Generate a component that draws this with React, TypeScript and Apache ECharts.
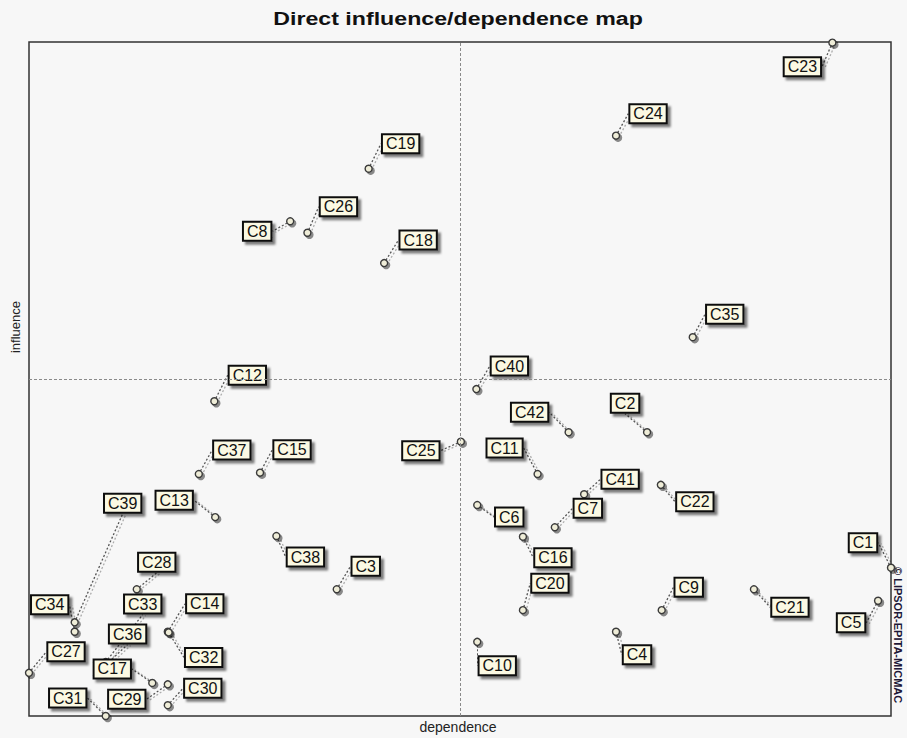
import React, { useEffect, useRef } from "react";
import * as echarts from "echarts";

const variables = [
  "C1", "C2", "C3", "C4", "C5", "C6", "C7", "C8", "C9", "C10",
  "C11", "C12", "C13", "C14", "C15", "C16", "C17", "C18", "C19", "C20",
  "C21", "C22", "C23", "C24", "C25", "C26", "C27", "C28", "C29", "C30",
  "C31", "C32", "C33", "C34", "C35", "C36", "C37", "C38", "C39", "C40",
  "C41", "C42",
];
const dependence = [
  100.0, 71.7, 35.7, 68.1, 98.5, 52.0, 61.0, 30.3, 73.4, 52.0,
  59.0, 21.5, 21.6, 16.1, 26.8, 57.3, 14.3, 41.2, 39.4, 57.3,
  84.1, 73.3, 93.2, 68.1, 50.1, 32.3, 0.0, 12.5, 16.1, 16.1,
  8.9, 16.2, 8.9, 5.3, 77.0, 9.0, 19.7, 28.7, 5.3, 51.9,
  64.4, 62.6,
];
const influence = [
  22.0, 42.1, 18.8, 12.5, 17.1, 31.3, 28.0, 73.4, 15.7, 11.0,
  35.9, 46.7, 29.5, 12.5, 36.1, 26.6, 4.9, 67.2, 81.2, 15.7,
  18.8, 34.3, 99.9, 86.1, 40.7, 71.7, 6.4, 18.8, 4.7, 1.6,
  0.0, 12.4, 8.0, 12.5, 56.2, 7.7, 35.9, 26.7, 13.9, 48.5,
  32.9, 42.1,
];
// label offsets (px) from each point to its tag
const labelDx = [
  -28, -22, 29, 21, -27, 32, 33, -33, 27, 20,
  -33, 33, -41, 37, 32, 30, -40, 34, 32, 27,
  36, 34, -30, 32, -40, 31, 37, 20, -41, 35,
  -38, 35, 37, -25, 32, 21, 33, 29, 48, 33,
  36, -39,
];
const labelDy = [
  -25, -29, -23, 23, 22, 12, -19, 10, -23, 24,
  -26, -26, -17, -28, -23, 21, -14, -23, -25, -27,
  18, 17, 24, -22, 9, -26, -21, -27, 15, -17,
  -18, 25, -58, -27, -23, -30, -24, 21, -119, -23,
  -15, -20,
];

const titleText = "Direct influence/dependence map";
const xName = "dependence";
const yName = "influence";
const credit = "© LIPSOR-EPITA-MICMAC";

export default function App() {
  const ref = useRef<HTMLDivElement>(null);

  useEffect(() => {
    if (!ref.current) return;
    const chart = echarts.init(ref.current, null, { renderer: "svg" });
    const data = variables.map((n, i) => ({ name: n, value: [dependence[i], influence[i]] }));
    const font = "Arial, 'Liberation Sans', sans-serif";

    chart.setOption({
      animation: false,
      backgroundColor: "#f7f7f7",
      grid: {
        left: 29,
        right: 16,
        top: 42,
        bottom: 22,
        show: true,
        backgroundColor: "#f7f7f7",
        borderColor: "#333",
        borderWidth: 1.5,
      },
      xAxis: {
        type: "value",
        min: 0,
        max: 100,
        axisLine: { show: false },
        axisTick: { show: false },
        axisLabel: { show: false },
        splitLine: { show: false },
      },
      yAxis: {
        type: "value",
        min: 0,
        max: 100,
        axisLine: { show: false },
        axisTick: { show: false },
        axisLabel: { show: false },
        splitLine: { show: false },
      },
      graphic: [
        {
          type: "text",
          x: 458,
          y: 18,
          scaleX: 1.22,
          style: {
            text: titleText,
            font: `bold 19px ${font}`,
            fill: "#111",
            textAlign: "center",
            textVerticalAlign: "middle",
          },
        },
        {
          type: "text",
          x: 458,
          y: 727,
          style: {
            text: xName,
            font: `14px ${font}`,
            fill: "#222",
            textAlign: "center",
            textVerticalAlign: "middle",
          },
        },
        {
          type: "text",
          x: 15,
          y: 327,
          rotation: Math.PI / 2,
          style: {
            text: yName,
            font: `13px ${font}`,
            fill: "#222",
            textAlign: "center",
            textVerticalAlign: "middle",
          },
        },
        {
          type: "text",
          x: 898,
          y: 567,
          rotation: -Math.PI / 2,
          style: {
            text: credit,
            font: `bold 11px ${font}`,
            fill: "#1e1838",
            textAlign: "left",
            textVerticalAlign: "middle",
          },
        },
      ],
      series: [
        {
          type: "scatter",
          data,
          clip: false,
          symbol: "circle",
          symbolSize: 7,
          itemStyle: {
            color: "#efedd8",
            borderColor: "#3a3a3a",
            borderWidth: 1.4,
            opacity: 1,
            shadowColor: "rgba(0,0,0,0.45)",
            shadowOffsetX: 2,
            shadowOffsetY: 2,
            shadowBlur: 1,
          },
          label: {
            show: true,
            position: "inside",
            formatter: "{b}",
            align: "center",
            verticalAlign: "middle",
            fontFamily: font,
            fontSize: 16,
            color: "#111",
            backgroundColor: "#fbf9e3",
            borderColor: "#111",
            borderWidth: 2,
            padding: [1, 3, 0, 3],
            shadowColor: "rgba(0,0,0,0.5)",
            shadowOffsetX: 3,
            shadowOffsetY: 3,
            shadowBlur: 2,
          },
          labelLayout: (p: any) => ({ dx: labelDx[p.dataIndex], dy: labelDy[p.dataIndex] }),
          labelLine: {
            show: true,
            lineStyle: {
              color: "#555",
              width: 1.3,
              type: [2, 2],
              shadowColor: "rgba(0,0,0,0.3)",
              shadowOffsetX: 3,
              shadowOffsetY: 1,
            },
          },
          emphasis: { disabled: true },
          markLine: {
            silent: true,
            symbol: "none",
            label: { show: false },
            lineStyle: { color: "#8a8a8a", type: [3, 2], width: 1 },
            data: [{ xAxis: 50 }, { yAxis: 50 }],
          },
          z: 3,
        },
      ],
    });
    return () => chart.dispose();
  }, []);

  return (
    <div
      ref={ref}
      style={{ position: "absolute", left: 0, top: 0, width: 907, height: 738 }}
    />
  );
}
